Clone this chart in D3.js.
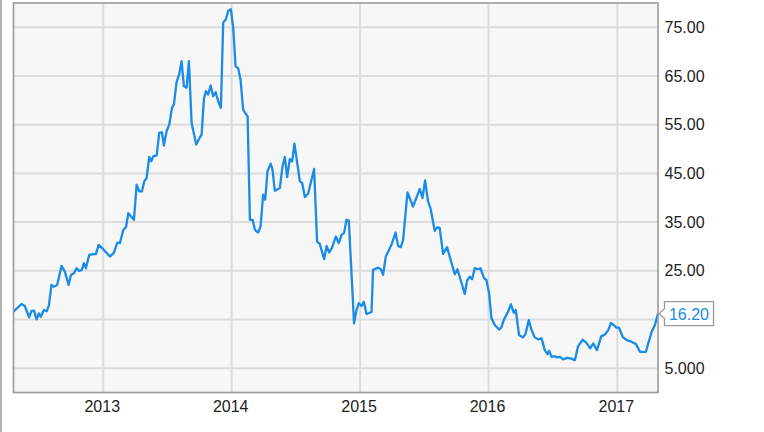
<!DOCTYPE html>
<html>
<head>
<meta charset="utf-8">
<script src="https://cdn.jsdelivr.net/npm/d3@7"></script>
<style>
  html, body { margin: 0; padding: 0; background: #fff; }
  svg { display: block; }
  text { font-family: "Liberation Sans", Arial, sans-serif; }
</style>
</head>
<body>
<svg id="chart" width="764" height="432"></svg>
<script>
// Dates as decimal years, price values
const years = [
  2012.303, 2012.311, 2012.365, 2012.391, 2012.424, 2012.443, 2012.463, 2012.482, 2012.500, 2012.515,
  2012.539, 2012.560, 2012.577, 2012.598, 2012.616, 2012.642, 2012.676, 2012.702, 2012.731, 2012.749,
  2012.772, 2012.793, 2012.813, 2012.834, 2012.850, 2012.865, 2012.891, 2012.922, 2012.943, 2012.964,
  2013.000, 2013.052, 2013.083, 2013.109, 2013.130, 2013.156, 2013.177, 2013.195, 2013.239, 2013.260,
  2013.280, 2013.301, 2013.319, 2013.338, 2013.358, 2013.374, 2013.389, 2013.416, 2013.436, 2013.457,
  2013.472, 2013.493, 2013.514, 2013.535, 2013.550, 2013.571, 2013.591, 2013.610, 2013.628, 2013.649,
  2013.667, 2013.688, 2013.724, 2013.745, 2013.766, 2013.784, 2013.799, 2013.817, 2013.836, 2013.856,
  2013.875, 2013.895, 2013.916, 2013.934, 2013.955, 2013.973, 2013.994, 2014.012, 2014.030, 2014.051,
  2014.069, 2014.089, 2014.108, 2014.124, 2014.142, 2014.163, 2014.181, 2014.206, 2014.225, 2014.245,
  2014.261, 2014.279, 2014.303, 2014.318, 2014.336, 2014.375, 2014.396, 2014.414, 2014.432, 2014.453,
  2014.471, 2014.489, 2014.531, 2014.549, 2014.570, 2014.595, 2014.642, 2014.665, 2014.686, 2014.720,
  2014.739, 2014.759, 2014.780, 2014.811, 2014.834, 2014.855, 2014.875, 2014.894, 2014.912, 2014.953,
  2014.972, 2014.990, 2015.011, 2015.029, 2015.050, 2015.089, 2015.101, 2015.140, 2015.161, 2015.179,
  2015.200, 2015.244, 2015.276, 2015.296, 2015.317, 2015.335, 2015.369, 2015.412, 2015.465, 2015.486,
  2015.506, 2015.529, 2015.548, 2015.581, 2015.602, 2015.620, 2015.646, 2015.677, 2015.737, 2015.758,
  2015.815, 2015.833, 2015.854, 2015.872, 2015.893, 2015.918, 2015.937, 2015.965, 2015.984, 2016.004,
  2016.023, 2016.048, 2016.082, 2016.100, 2016.118, 2016.152, 2016.174, 2016.196, 2016.212, 2016.237,
  2016.268, 2016.287, 2016.313, 2016.334, 2016.359, 2016.385, 2016.412, 2016.437, 2016.458, 2016.471,
  2016.490, 2016.515, 2016.533, 2016.554, 2016.580, 2016.611, 2016.637, 2016.671, 2016.696, 2016.731,
  2016.759, 2016.790, 2016.813, 2016.842, 2016.875, 2016.904, 2016.930, 2016.951, 2016.973, 2016.990,
  2017.013, 2017.042, 2017.073, 2017.103, 2017.125, 2017.146, 2017.177, 2017.223, 2017.241, 2017.268,
  2017.293, 2017.317
];
const prices = [
  16.60, 16.80, 18.18, 17.77, 15.44, 16.74, 16.80, 15.03, 16.26, 15.56,
  16.94, 16.67, 17.77, 22.09, 21.74, 22.09, 26.00, 24.83, 22.09, 24.15,
  24.50, 25.53, 24.97, 25.18, 26.56, 25.53, 28.27, 28.41, 28.41, 30.33,
  29.44, 27.92, 28.74, 30.80, 30.70, 33.41, 33.93, 36.81, 35.47, 42.68,
  41.30, 41.30, 43.36, 44.06, 48.38, 47.48, 48.51, 48.71, 53.32, 53.45,
  50.71, 53.65, 55.03, 58.47, 59.15, 63.74, 65.33, 68.07, 62.92, 62.59,
  68.07, 55.38, 50.91, 52.09, 52.97, 60.32, 61.89, 61.21, 63.06, 60.86,
  61.68, 59.83, 58.47, 75.97, 76.65, 78.36, 78.71, 74.94, 67.04, 66.56,
  64.30, 58.12, 57.30, 56.74, 35.47, 35.47, 33.41, 32.86, 34.09, 40.62,
  39.59, 45.42, 47.00, 45.77, 41.44, 42.00, 46.45, 48.38, 44.26, 47.97,
  47.48, 51.12, 43.36, 43.03, 40.15, 40.83, 45.91, 31.00, 30.53, 27.38,
  30.12, 28.74, 29.65, 32.03, 30.67, 32.38, 32.73, 35.47, 35.33, 14.20,
  16.94, 18.32, 17.77, 18.65, 16.12, 16.53, 25.18, 25.65, 25.32, 24.15,
  27.92, 30.33, 32.86, 30.12, 29.85, 31.35, 41.09, 38.21, 41.79, 39.94,
  43.56, 39.24, 37.88, 33.21, 33.97, 33.76, 28.47, 29.85, 24.29, 25.32,
  20.24, 22.97, 23.80, 23.26, 25.53, 25.32, 25.53, 23.47, 23.12, 20.38,
  15.23, 13.85, 12.93, 13.38, 14.88, 16.59, 18.12, 16.39, 16.94, 11.79,
  11.32, 12.00, 14.88, 12.82, 11.32, 10.91, 11.11, 8.71, 7.88, 8.56,
  7.33, 7.47, 7.20, 7.33, 6.79, 7.12, 7.00, 6.65, 9.53, 10.83,
  10.25, 9.06, 10.09, 8.71, 11.53, 11.90, 12.82, 14.27, 13.85, 13.34,
  13.34, 11.44, 10.77, 10.52, 10.21, 9.94, 8.36, 8.36, 10.09, 12.47,
  13.85, 16.20
];
const yTicks = [5, 15, 25, 35, 45, 55, 65, 75];
const xTickYears = [2013, 2014, 2015, 2016, 2017];
const lastLabel = "16.20";

function toDate(dy) {
  const y = Math.floor(dy);
  const start = new Date(y, 0, 1), end = new Date(y + 1, 0, 1);
  return new Date(+start + (dy - y) * (end - start));
}
const data = years.map((t, i) => ({ date: toDate(t), value: prices[i] }));

const svg = d3.select("#chart");
const L = 13.5, R = 658, T = 3, B = 392.5;

const x = d3.scaleTime()
  .domain(d3.extent(data, d => d.date))
  .range([L, R]);
const y = d3.scaleLinear()
  .domain([0, 80])
  .range([B, T]);

// outer left frame line
svg.append("line").attr("x1", 1).attr("x2", 1).attr("y1", 0).attr("y2", 432)
  .attr("stroke", "#9a9a9a").attr("stroke-width", 1.5);

// plot background
svg.append("rect").attr("x", L).attr("y", T).attr("width", R - L).attr("height", B - T)
  .attr("fill", "#f7f7f7");

// grid lines
const grid = svg.append("g");
grid.selectAll("line.h").data(yTicks).join("line")
  .attr("x1", L).attr("x2", R)
  .attr("y1", d => y(d)).attr("y2", d => y(d))
  .attr("stroke", "#dcdcdc").attr("stroke-width", 2);
const xTicks = xTickYears.map(yy => new Date(yy, 0, 1));
grid.selectAll("line.v").data(xTicks).join("line")
  .attr("x1", d => x(d)).attr("x2", d => x(d))
  .attr("y1", T).attr("y2", B)
  .attr("stroke", "#dcdcdc").attr("stroke-width", 2);

// data line
const line = d3.line().x(d => x(d.date)).y(d => y(d.value));
svg.append("path").datum(data)
  .attr("d", line)
  .attr("fill", "none")
  .attr("stroke", "#1a8be6")
  .attr("stroke-width", 2.3)
  .attr("stroke-linejoin", "round");

// plot border
svg.append("rect").attr("x", L).attr("y", T).attr("width", R - L).attr("height", B - T)
  .attr("fill", "none").attr("stroke", "#9a9a9a").attr("stroke-width", 1.6);

const last = data[data.length - 1];
const lx = x(last.date), ly = y(last.value);

// y axis labels (right); the tick hidden behind the last-value callout is not shown
const fmt = d3.format(".4r");
svg.append("g").selectAll("text")
  .data(yTicks.filter(d => Math.abs(y(d) - ly) > 16))
  .join("text")
  .attr("x", 664.5)
  .attr("y", d => y(d) + 5.5)
  .attr("font-size", 16)
  .attr("fill", "#222")
  .text(d => fmt(d));

// x axis labels
svg.append("g").selectAll("text").data(xTicks).join("text")
  .attr("x", d => x(d) - 1)
  .attr("y", 412)
  .attr("text-anchor", "middle")
  .attr("font-size", 16)
  .attr("fill", "#222")
  .text(d => d3.timeFormat("%Y")(d));

// last value label with pointer
const bx = 664.5, bw = 49, bh = 24, by = ly - 12;
const callout = svg.append("g");
callout.append("path")
  .attr("d", `M${bx},${by} H${bx + bw} V${by + bh} H${bx} V${ly + 5} L${lx + 1},${ly} L${bx},${ly - 5} Z`)
  .attr("fill", "#fff").attr("stroke", "#9a9a9a").attr("stroke-width", 1.3);
callout.append("text")
  .attr("x", bx + bw / 2).attr("y", ly + 6)
  .attr("text-anchor", "middle")
  .attr("font-size", 16)
  .attr("fill", "#1a8be6")
  .text(lastLabel);
</script>
</body>
</html>
